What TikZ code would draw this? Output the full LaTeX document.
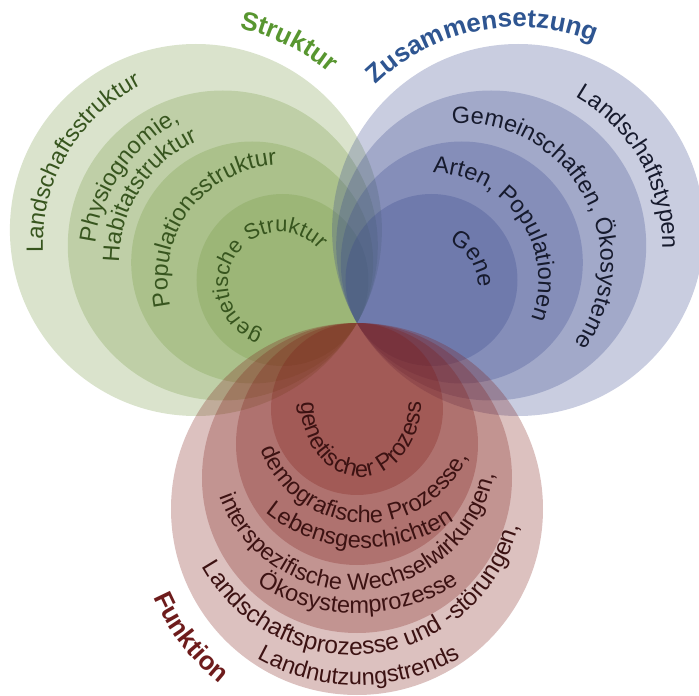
\documentclass[tikz,border=0pt]{standalone}
\usepackage{fontspec}
\setmainfont{Liberation Sans}
\usetikzlibrary{decorations.text}
\definecolor{gbase}{RGB}{117,153,66}
\definecolor{bbase}{RGB}{55,70,140}
\definecolor{rbase}{RGB}{125,25,20}
\definecolor{gtxt}{RGB}{55,85,30}
\definecolor{btxt}{RGB}{22,26,45}
\definecolor{rtxt}{RGB}{60,18,18}
\definecolor{gtitle}{RGB}{88,150,48}
\definecolor{btitle}{RGB}{46,85,145}
\definecolor{rtitle}{RGB}{110,28,28}
\newcommand{\gfmt}{\color{gtxt}\fontsize{23.5}{28}\selectfont}
\newcommand{\gfmtsmall}{\color{gtxt}\fontsize{22}{26}\selectfont}
\newcommand{\bfmt}{\color{btxt}\fontsize{23.5}{28}\selectfont}
\newcommand{\rfmt}{\color{rtxt}\fontsize{23.5}{28}\selectfont}
\newcommand{\rfmtwide}{\color{rtxt}\fontsize{24.5}{28}\selectfont}
\newcommand{\gtfmt}{\color{gtitle}\fontsize{26}{30}\selectfont\bfseries}
\newcommand{\btfmt}{\color{btitle}\fontsize{26}{30}\selectfont\bfseries}
\newcommand{\rtfmt}{\color{rtitle}\fontsize{26}{30}\selectfont\bfseries}
% #1 centre, #2 baseline radius, #3 mid angle, #4 half span (+ clockwise, - counterclockwise), #5 format, #6 text
\newcommand{\ArcText}[6]{%
  \pgfmathsetmacro{\arcA}{#3+(#4)}%
  \pgfmathsetmacro{\arcB}{#3-(#4)}%
  \path[decorate,decoration={text along path,text align=center,text={|#5|#6}}]
    (#1) ++(\arcA:#2pt) arc[start angle=\arcA, end angle=\arcB, radius=#2pt];}
% elliptic variant: #1 centre, #2 x radius, #3 y radius, #4 mid angle, #5 half span, #6 format, #7 text
\newcommand{\EllText}[7]{%
  \pgfmathsetmacro{\arcA}{#4+(#5)}%
  \pgfmathsetmacro{\arcB}{#4-(#5)}%
  \path[decorate,decoration={text along path,text align=center,text={|#6|#7}}]
    (#1) ++(\arcA:#2pt and #3pt) arc[start angle=\arcA, end angle=\arcB, x radius=#2pt, y radius=#3pt];}
\begin{document}
\begin{tikzpicture}[x=1pt,y=1pt,
  gfill/.style={fill=gbase,fill opacity=0.27},
  bfill/.style={fill=bbase,fill opacity=0.27},
  rfill/.style={fill=rbase,fill opacity=0.27}]
\useasboundingbox (-357,-373) rectangle (342,323);
% green set (direction 150)
\fill[gfill] (-161.1,93) circle[radius=186pt];
\fill[gfill] (-134.2,77.5) circle[radius=155pt];
\fill[gfill] (-104.8,60.5) circle[radius=121pt];
\fill[gfill] (-74.5,43) circle[radius=86pt];
% blue set (direction 30)
\fill[bfill] (161.1,93) circle[radius=186pt];
\fill[bfill] (134.2,77.5) circle[radius=155pt];
\fill[bfill] (104.8,60.5) circle[radius=121pt];
\fill[bfill] (74.5,43) circle[radius=86pt];
% red set (direction 270)
\fill[rfill] (0,-186) circle[radius=186pt];
\fill[rfill] (0,-155) circle[radius=155pt];
\fill[rfill] (0,-121) circle[radius=121pt];
\fill[rfill] (0,-86) circle[radius=86pt];
% green texts
\ArcText{-134.2,77.5}{180}{149.5}{43}{\gfmt}{Landschaftsstruktur}
\ArcText{-104.8,60.5}{158}{145}{38}{\gfmt}{Physiognomie,}
\ArcText{-104.8,60.5}{133}{147}{43}{\gfmt}{Habitatstruktur}
\ArcText{-74.5,43}{115}{143}{60}{\gfmt}{Populationsstruktur}
\ArcText{-77,39}{52}{146}{113}{\gfmtsmall}{genetische Struktur}
% blue texts
\ArcText{134.2,77.5}{171}{29.7}{40}{\bfmt}{Landschaftstypen}
\ArcText{104.8,60.5}{139}{29.2}{75}{\bfmt}{Gemeinschaften, Ökosysteme}
\ArcText{74.5,43}{107}{34}{65}{\bfmt}{Arten, Populationen}
\ArcText{72,36}{49}{32.5}{45}{\bfmt}{Gene}
% red texts
\ArcText{-4.5,-160}{172}{277.3}{-75}{\rfmtwide}{Landschaftsprozesse und -störungen,}
\ArcText{1,-154.5}{207.5}{270.2}{-39}{\rfmt}{Landnutzungstrends}
\ArcText{-3,-124.5}{143}{274.5}{-85}{\rfmt}{interspezifische Wechselwirkungen,}
\ArcText{0,-99}{191}{270.3}{-40}{\rfmt}{Ökosystemprozesse}
\ArcText{9,-88}{112}{268}{-77}{\rfmt}{demografische Prozesse,}
\ArcText{8,-67}{158}{267.6}{-47}{\rfmt}{Lebensgeschichten}
\EllText{4,-80}{60}{74}{270}{-100}{\rfmt}{genetischer Prozess}
% titles
\ArcText{-161.1,93}{206}{63.75}{25}{\gtfmt}{Struktur}
\ArcText{161.1,93}{203}{101.2}{45}{\btfmt}{Zusammensetzung}
\ArcText{0,-186}{222}{217.6}{-25}{\rtfmt}{Funktion}
\end{tikzpicture}
\end{document}
